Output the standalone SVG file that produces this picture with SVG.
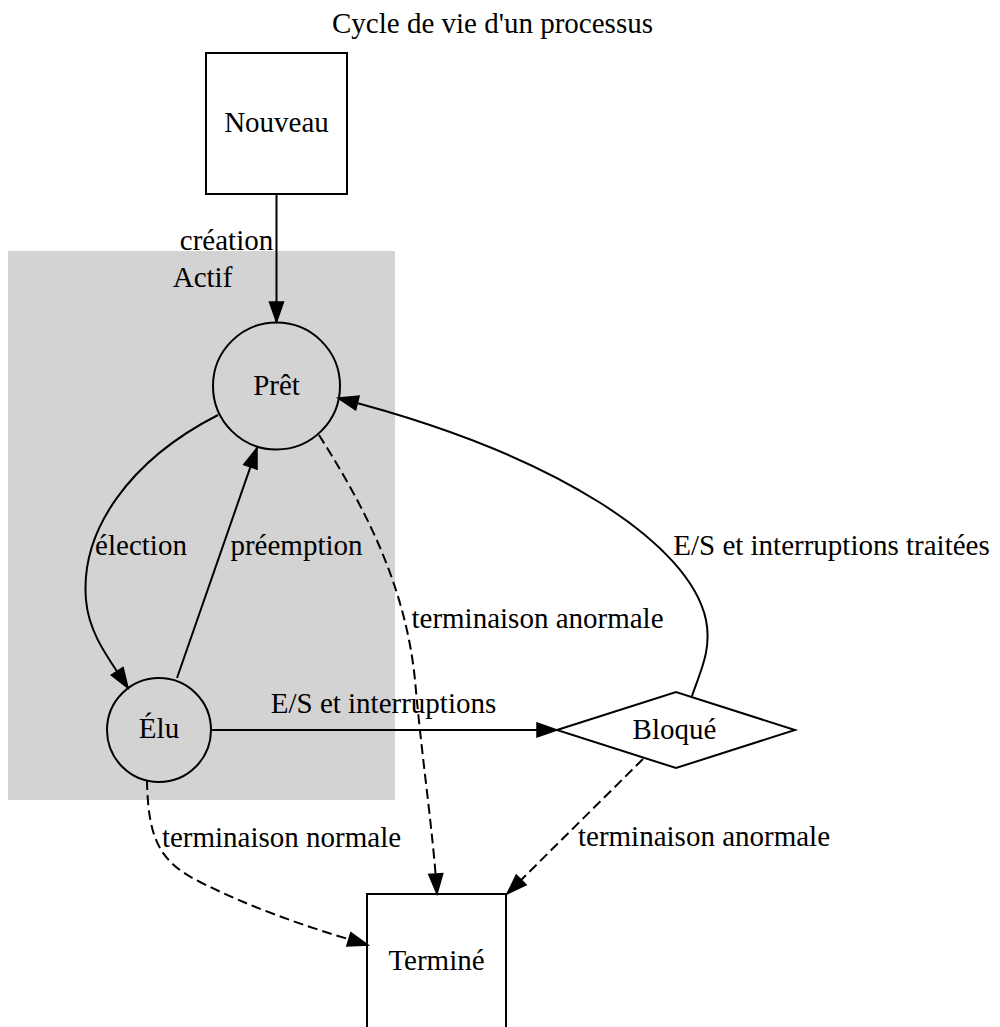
<svg xmlns="http://www.w3.org/2000/svg" width="1000" height="1027" viewBox="0 0 1000 1027">
<style>
  text { font-family: "Liberation Serif", "Times New Roman", serif; font-size: 29px; fill: #000; text-anchor: middle; }
  .shape { fill: none; stroke: #000; stroke-width: 2; }
  .edge { fill: none; stroke: #000; stroke-width: 2; marker-end: url(#arrow); }
  .dashed { stroke-dasharray: 10,5; }
</style>
<defs>
  <marker id="arrow" markerUnits="userSpaceOnUse" markerWidth="24" markerHeight="18" refX="20" refY="7" orient="auto" overflow="visible">
    <path d="M0,0 L20,7 L0,14 z" fill="#000" stroke="#000" stroke-width="1.5"/>
  </marker>
</defs>
<rect width="1000" height="1027" fill="#fff"/>
<text x="492.5" y="33">Cycle de vie d'un processus</text>

<g id="cluster-actif">
  <rect x="8" y="251" width="387" height="549" fill="#d3d3d3"/>
  <text x="202.5" y="287">Actif</text>
</g>

<g id="node-nouveau">
  <rect class="shape" x="206" y="53" width="141" height="141"/>
  <text x="276.5" y="132">Nouveau</text>
</g>
<g id="node-pret">
  <circle class="shape" cx="276.5" cy="386" r="63.5"/>
  <text x="276.5" y="395">Prêt</text>
</g>
<g id="node-elu">
  <circle class="shape" cx="159" cy="730" r="52"/>
  <text x="159" y="738">Élu</text>
</g>
<g id="node-bloque">
  <polygon class="shape" points="557,730 676,692 795,730 676,768"/>
  <text x="674.5" y="739">Bloqué</text>
</g>
<g id="node-termine">
  <rect class="shape" x="367" y="894" width="139" height="140"/>
  <text x="436.5" y="970">Terminé</text>
</g>

<g id="connectors">
  <path class="edge" d="M276.5,194 L276.5,322"/>
  <text x="226.5" y="250">création</text>

  <path class="edge" d="M218,415 C130,460 80,530 86,600 C89,635 110,660 128,688"/>
  <text x="141" y="555">élection</text>

  <path class="edge" d="M177,678 L257,448"/>
  <text x="296.5" y="555">préemption</text>

  <path class="edge" d="M211,730 L557,730"/>
  <text x="383.5" y="713">E/S et interruptions</text>

  <path class="edge" d="M692,696 C700,672 712,650 706,620 C690,545 560,455 338,398"/>
  <text x="831.5" y="555">E/S et interruptions traitées</text>

  <path class="edge dashed" d="M319,435 C360,500 405,580 415,680 C422,760 433,830 437,894"/>
  <text x="537.5" y="628">terminaison anormale</text>

  <path class="edge dashed" d="M147,780 C148,840 160,862 200,882 C250,907 300,925 368,945"/>
  <text x="281.5" y="847">terminaison normale</text>

  <path class="edge dashed" d="M643,759 L507,894"/>
  <text x="704" y="846">terminaison anormale</text>
</g>
</svg>
